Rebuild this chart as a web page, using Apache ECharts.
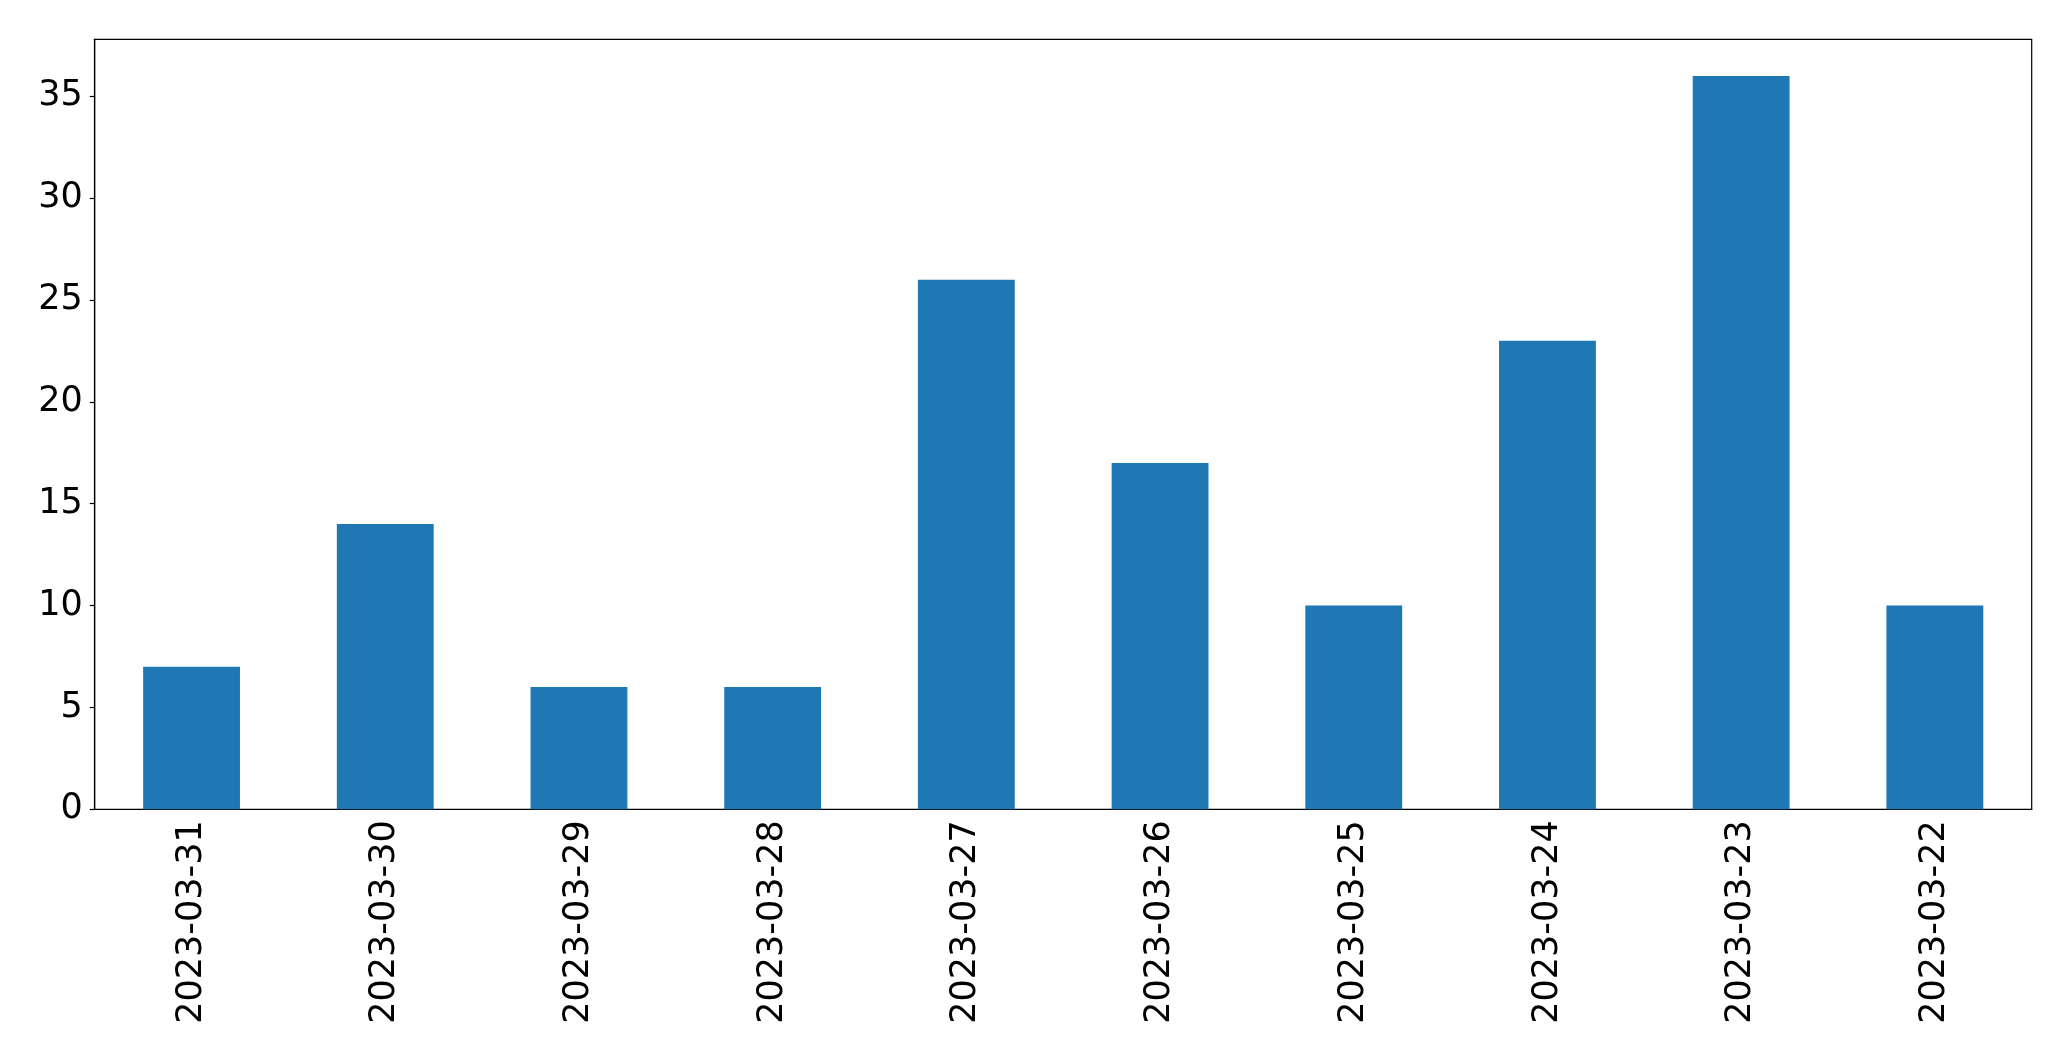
<!DOCTYPE html>
<html>
<head>
<meta charset="utf-8">
<script src="https://cdn.jsdelivr.net/npm/echarts@6/dist/echarts.min.js"></script>
<style>
html,body{margin:0;padding:0;background:#fff;}
#chart{width:2071px;height:1061px;}
</style>
</head>
<body>
<div id="chart"></div>
<script>
const categories = ["2023-03-31","2023-03-30","2023-03-29","2023-03-28","2023-03-27","2023-03-26","2023-03-25","2023-03-24","2023-03-23","2023-03-22"];
const values = [7, 14, 6, 6, 26, 17, 10, 23, 36, 10];
const yTicks = [0, 5, 10, 15, 20, 25, 30, 35];
const yMax = 37.8;

const chart = echarts.init(document.getElementById('chart'), null, {renderer: 'canvas'});
const font = 'DejaVu Sans';
chart.setOption({
  animation: false,
  backgroundColor: '#ffffff',
  grid: {
    left: 94.7, top: 39.3, width: 1937, height: 770,
    show: true, borderColor: '#000', borderWidth: 1.2, backgroundColor: 'transparent'
  },
  xAxis: {
    type: 'category',
    data: categories,
    boundaryGap: true,
    axisLine: {lineStyle: {color: '#000', width: 1.2}},
    axisTick: {alignWithLabel: true, length: 5, lineStyle: {color: '#000', width: 1.2}},
    axisLabel: {rotate: 90, margin: 11, color: '#000', fontFamily: font, fontSize: 35, interval: 0}
  },
  yAxis: {
    type: 'value',
    min: 0, max: yMax, interval: 5,
    splitLine: {show: false},
    axisLine: {show: true, lineStyle: {color: '#000', width: 1.2}},
    axisTick: {show: true, length: 5, customValues: yTicks, lineStyle: {color: '#000', width: 1.2}},
    axisLabel: {customValues: yTicks, margin: 12, color: '#000', fontFamily: font, fontSize: 35}
  },
  series: [{
    type: 'bar',
    data: values,
    barWidth: '50%',
    itemStyle: {color: '#1f77b4'}
  }]
});
</script>
</body>
</html>
